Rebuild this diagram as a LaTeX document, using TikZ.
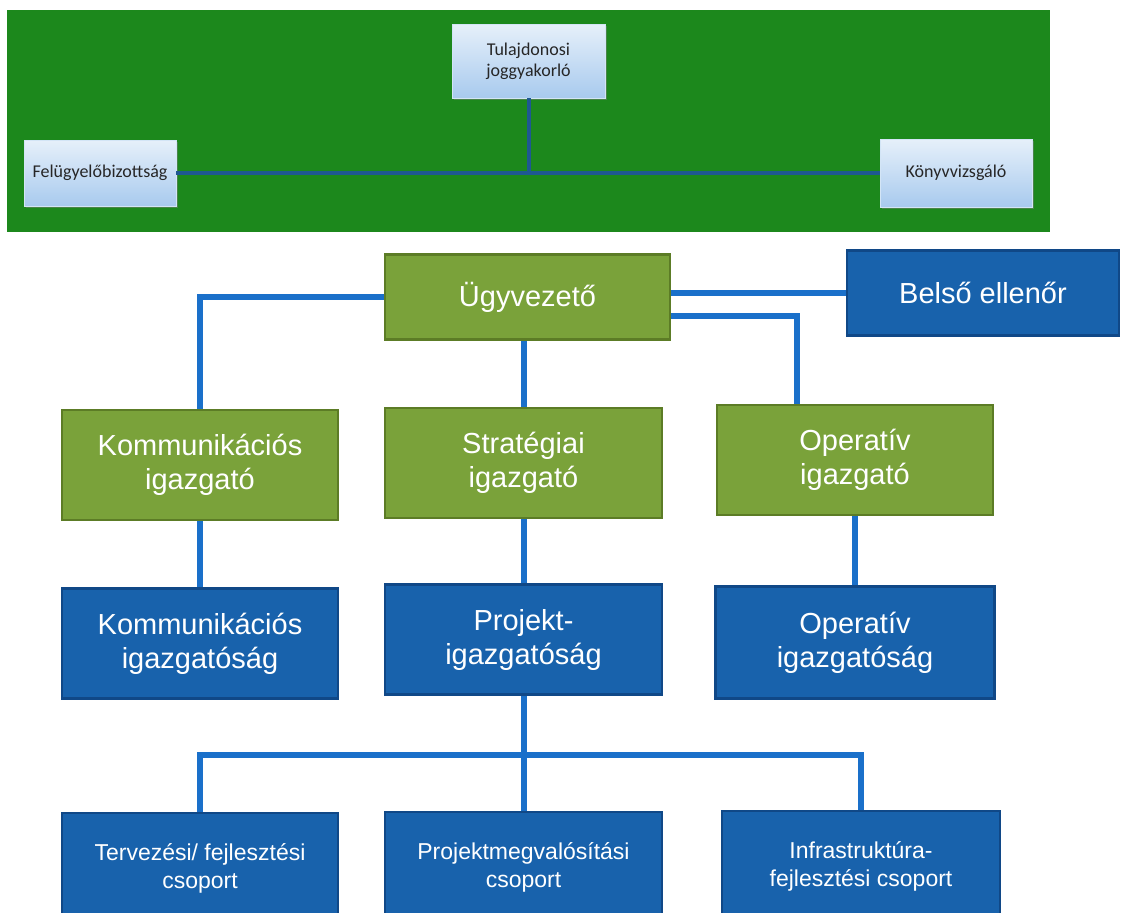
\documentclass[tikz,border=0pt]{standalone}
\usepackage{fontspec}
\setmainfont{Liberation Sans}
\newfontfamily\ownerfont{Carlito}
\usepackage{tikz}
\usetikzlibrary{
	positioning,
	shadows
}
\usepackage{xcolor}
\definecolor{boardgreen}{RGB}{28,136,28}
\definecolor{ownertop}{RGB}{230,240,250}
\definecolor{ownerbottom}{RGB}{168,202,238}
\definecolor{toplinkblue}{RGB}{30,88,145}
\definecolor{leadgreen}{RGB}{122,162,58}
\definecolor{leadedge}{RGB}{92,124,38}
\definecolor{unitblue}{RGB}{24,98,172}
\definecolor{unitedge}{RGB}{16,72,135}
\definecolor{linkblue}{RGB}{26,112,202}

\begin{document}
\begin{tikzpicture}[x=1pt,y=-1pt,
	ownerbox/.style={shade,top color=ownertop,bottom color=ownerbottom,draw=ownertop!70!ownerbottom,line width=0.6pt,
		minimum width=152pt,minimum height=68pt,inner sep=0pt,align=center,text=black!85,
		font=\ownerfont\fontsize{18}{21}\selectfont,
		drop shadow={shadow xshift=2pt,shadow yshift=-2pt,opacity=0.45}},
	leadbox/.style={fill=leadgreen,draw=leadedge,line width=2.5pt,minimum width=276pt,minimum height=110pt,
		inner sep=0pt,align=center,text=white,font=\fontsize{29}{34}\selectfont},
	unitbox/.style={leadbox,fill=unitblue,draw=unitedge},
	groupbox/.style={unitbox,font=\fontsize{23}{28}\selectfont},
	toplink/.style={draw=toplinkblue,line width=4pt},
	link/.style={draw=linkblue,line width=6pt}]
			
			\useasboundingbox (0,0) rectangle (1122,913);
			\clip (0,0) rectangle (1122,913);
			\fill[white] (0,0) rectangle (1122,913);
			\fill[boardgreen] (7,10) rectangle (1050,232);
			
			\node[ownerbox,minimum width=153pt,minimum height=74pt] (owner) at (528.5,61)
			{Tulajdonosi\\joggyakorló};
			
			\node[ownerbox,minimum height=66pt] (board) at (100,173)
			{Felügyelőbizottság};
			
			\node[ownerbox] (auditor) at (956,173)
			{Könyvvizsgáló};
			
			\draw[toplink] (board)--(auditor);
			\draw[toplink] (owner)--(owner |- board);
			
			\node[leadbox,minimum width=285pt,minimum height=85pt] (ceo) at (527.5,297)
			{Ügyvezető};
			
			\node[unitbox,minimum width=272pt,minimum height=85pt] (internal) at (983,293)
			{Belső ellenőr};
			
			\node[leadbox] (commdir) at (200,465)
			{Kommunikációs\\igazgató};
			
			\node[leadbox,minimum width=277pt] (stratdir) at (523.5,463)
			{Stratégiai\\igazgató};
			
			\node[leadbox] (opdir) at (855,460)
			{Operatív\\igazgató};
			
			\node[unitbox,below=66pt of commdir] (commdept)
			{Kommunikációs\\igazgatóság};
			
			\node[unitbox,minimum width=277pt,below=64pt of stratdir] (projdept)
			{Projekt-\\igazgatóság};
			
			\node[unitbox,minimum width=279pt,minimum height=112pt,below=69pt of opdir] (opdept)
			{Operatív\\igazgatóság};
			
			\node[groupbox,below=112pt of commdept] (plangroup)
			{Tervezési/ fejlesztési\\csoport};
			
			\node[groupbox,minimum width=277pt,below=115pt of projdept] (buildgroup)
			{Projektmegvalósítási\\csoport};
			
			\node[groupbox,minimum width=278pt,below=110pt of opdept,xshift=6pt] (infragroup)
			{Infrastruktúra-\\fejlesztési csoport};
			
			\draw[link] (ceo.west)-|(commdir.north);
			\draw[link] (stratdir.north)--(stratdir.north |- ceo.south);
			\draw[link] (ceo.east |- internal.west)--(internal.west);
			\draw[link] ([yshift=-19pt]ceo.east)-|([xshift=-58pt]opdir.north);
			\draw[link] (commdir)--(commdept);
			\draw[link] (stratdir)--(projdept);
			\draw[link] (opdir)--(opdept);
			\draw[link] (projdept)--(buildgroup);
			
			\coordinate (bus) at (projdept.south |- 0,755);
			\draw[link] (plangroup.north)|-(bus)-|(infragroup.north);
			
		\end{tikzpicture}
\end{document}
